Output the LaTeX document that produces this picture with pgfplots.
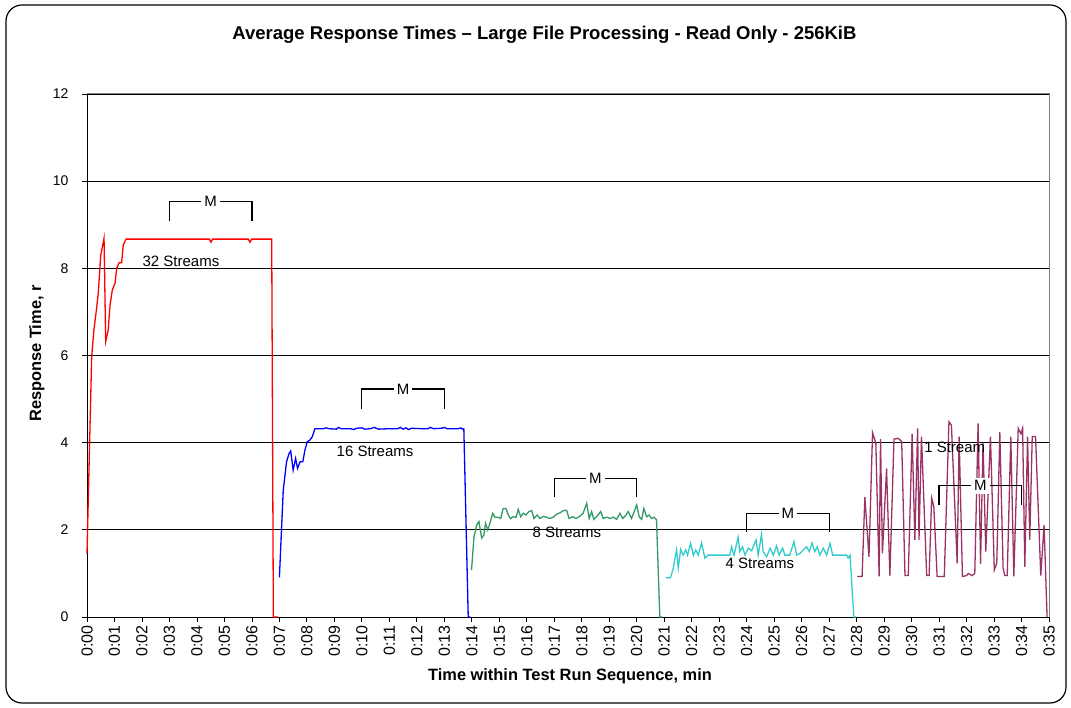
\documentclass[border=0pt]{standalone}
\usepackage{pgfplots}
\pgfplotsset{compat=1.18}
\usepackage{fontspec}
\setmainfont{Liberation Sans}
\definecolor{s32}{RGB}{255,0,0}
\definecolor{s16}{RGB}{0,0,255}
\definecolor{s8}{RGB}{51,153,102}
\definecolor{s4}{RGB}{51,204,204}
\definecolor{s1}{RGB}{153,51,102}
\newcommand{\tfont}{\fontsize{14}{14}\selectfont}
\newcommand{\xtfont}{\fontsize{16}{16}\selectfont}
\newcommand{\lfont}{\fontsize{15}{15}\selectfont}
\newcommand{\bfont}{\fontsize{16.4}{16.4}\selectfont\bfseries}
\newcommand{\titfont}{\fontsize{18.5}{18.5}\selectfont\bfseries}
\begin{document}
\begin{tikzpicture}[x=1pt,y=1pt]
\useasboundingbox (0,0) rectangle (1071,707);
\draw[line width=1.2pt, rounded corners=16pt] (6,4) rectangle (1066,702);
\node[font=\titfont] at (544.5,672) {Average Response Times -- Large File Processing - Read Only - 256KiB};
\node[font=\bfont] at (570,31) {Time within Test Run Sequence, min};
\node[font=\bfont, rotate=90] at (37,353.5) {Response Time, r};
\begin{axis}[
  at={(87pt,90pt)}, anchor=south west,
  width=962pt, height=523pt, scale only axis,
  xmin=0, xmax=35, ymin=0, ymax=12,
  xtick={0,1,...,35},
  xticklabels={0:00,0:01,0:02,0:03,0:04,0:05,0:06,0:07,0:08,0:09,0:10,0:11,0:12,0:13,0:14,0:15,0:16,0:17,0:18,0:19,0:20,0:21,0:22,0:23,0:24,0:25,0:26,0:27,0:28,0:29,0:30,0:31,0:32,0:33,0:34,0:35},
  x tick label style={rotate=90, anchor=east, font=\xtfont},
  ytick={0,2,...,12},
  y tick label style={font=\tfont, xshift=-10pt},
  /pgf/number format/assume math mode=true,
  tick align=outside, tick pos=left, major tick length=5pt,
  tick style={black, line width=0.8pt},
  ymajorgrids, grid style={black, line width=0.8pt},
  axis line style={draw=none},
  clip=false,
  every axis plot/.append style={line width=1.3pt},
]
\draw[gray, line width=1pt] (axis cs:0,12) -- (axis cs:35,12) -- (axis cs:35,0);
\draw[black, line width=1pt] (axis cs:0,12) -- (axis cs:0,0) -- (axis cs:35,0);

\addplot[s32] coordinates {
(0.00,1.45)(0.17,5.97)(0.25,6.58)(0.35,7.09)(0.41,7.43)(0.50,8.30)(0.62,8.69)
(0.68,6.32)(0.77,6.58)(0.84,7.16)(0.92,7.50)(1.02,7.66)(1.08,8.00)(1.17,8.13)
(1.26,8.13)(1.32,8.54)(1.42,8.67)(4.45,8.67)(4.51,8.60)(4.57,8.67)
(5.87,8.67)(5.93,8.60)(5.99,8.67)(6.72,8.67)(6.78,0)(6.95,0)};

\addplot[s16] coordinates {
(7.00,0.91)(7.14,2.91)(7.26,3.56)(7.35,3.75)(7.41,3.81)(7.50,3.37)(7.59,3.64)
(7.66,3.41)(7.75,3.56)(7.85,3.56)(7.93,3.83)(8.01,4.02)(8.11,4.06)(8.20,4.14)
(8.29,4.32)(8.60,4.32)(8.70,4.34)(8.80,4.32)(9.08,4.31)(9.15,4.35)(9.25,4.32)
(9.60,4.32)(9.70,4.30)(9.80,4.33)(10.00,4.34)(10.10,4.31)(10.30,4.32)(10.45,4.35)
(10.60,4.31)(11.00,4.32)(11.30,4.32)(11.40,4.35)(11.50,4.31)(11.60,4.34)(11.70,4.30)
(11.80,4.33)(12.20,4.32)(12.40,4.32)(12.50,4.35)(12.60,4.32)(12.90,4.33)(13.00,4.35)
(13.10,4.32)(13.50,4.32)(13.60,4.34)(13.65,4.31)(13.71,4.32)(13.87,0)(13.95,0)};

\addplot[s8] coordinates {
(13.99,1.08)(14.08,1.84)(14.18,2.11)(14.26,2.19)(14.36,1.81)(14.44,1.88)(14.50,2.15)
(14.58,2.00)(14.66,2.15)(14.76,2.38)(14.84,2.29)(14.96,2.29)(15.05,2.26)(15.14,2.49)
(15.24,2.49)(15.33,2.34)(15.41,2.26)(15.51,2.30)(15.61,2.29)(15.69,2.47)(15.78,2.30)
(15.87,2.38)(15.97,2.34)(16.08,2.42)(16.18,2.44)(16.26,2.26)(16.38,2.34)(16.48,2.26)
(16.60,2.31)(16.72,2.29)(16.84,2.26)(16.96,2.29)(17.09,2.36)(17.21,2.39)(17.33,2.44)
(17.45,2.45)(17.54,2.26)(17.67,2.30)(17.79,2.26)(17.93,2.31)(18.05,2.38)(18.18,2.61)
(18.27,2.26)(18.36,2.42)(18.44,2.24)(18.54,2.30)(18.69,2.42)(18.78,2.26)(18.91,2.29)
(19.03,2.26)(19.15,2.29)(19.27,2.24)(19.39,2.38)(19.49,2.26)(19.61,2.34)(19.69,2.42)
(19.81,2.26)(19.91,2.42)(20.00,2.57)(20.09,2.30)(20.18,2.24)(20.26,2.49)(20.36,2.30)
(20.45,2.34)(20.54,2.26)(20.63,2.29)(20.72,2.23)(20.84,0)(20.94,0)};

\addplot[s4] coordinates {
(21.05,0.90)(21.23,0.90)(21.33,1.12)(21.45,1.54)(21.51,1.12)(21.60,1.55)(21.69,1.42)
(21.78,1.54)(21.85,1.42)(21.96,1.69)(22.06,1.42)(22.15,1.54)(22.24,1.42)(22.36,1.70)
(22.48,1.35)(22.60,1.42)(23.39,1.42)(23.45,1.61)(23.54,1.42)(23.69,1.83)(23.75,1.50)
(23.85,1.61)(23.94,1.42)(24.06,1.58)(24.18,1.52)(24.34,1.77)(24.42,1.42)(24.54,1.90)
(24.60,1.50)(24.73,1.38)(24.85,1.58)(24.97,1.42)(25.09,1.63)(25.18,1.42)(25.31,1.58)
(25.39,1.42)(25.57,1.42)(25.72,1.73)(25.82,1.42)(25.94,1.46)(26.06,1.54)(26.18,1.61)
(26.28,1.50)(26.38,1.70)(26.48,1.50)(26.57,1.61)(26.66,1.42)(26.79,1.58)(26.91,1.42)
(27.03,1.69)(27.13,1.42)(27.64,1.42)(27.69,1.35)(27.76,1.42)(27.90,0)(27.98,0)};

\addplot[s1] coordinates {
(28.02,0.93)(28.20,0.93)(28.30,2.75)(28.45,1.38)(28.58,4.23)(28.70,3.99)(28.82,0.93)
(28.87,4.08)(28.94,1.46)(29.09,3.41)(29.21,0.95)(29.36,4.08)(29.51,4.10)(29.64,4.03)
(29.76,0.95)(29.88,0.95)(30.02,4.20)(30.12,1.77)(30.22,4.33)(30.27,1.77)(30.36,4.14)
(30.55,0.95)(30.64,0.95)(30.73,2.73)(30.81,2.53)(30.93,0.93)(31.19,0.93)(31.36,4.48)
(31.45,4.40)(31.66,1.23)(31.73,4.14)(31.85,0.93)(32.00,0.95)(32.06,1.00)(32.20,0.95)
(32.30,1.00)(32.42,4.44)(32.51,1.22)(32.60,4.00)(32.70,1.50)(32.87,4.14)(33.01,1.08)
(33.10,1.23)(33.21,4.24)(33.33,1.12)(33.39,0.95)(33.48,0.95)(33.61,4.14)(33.72,0.93)
(33.88,4.33)(33.98,4.20)(34.04,4.33)(34.12,1.15)(34.22,4.14)(34.30,1.77)(34.39,4.14)
(34.51,4.14)(34.70,0.95)(34.82,2.11)(34.93,0)};

% M brackets
\foreach \a/\lo/\hi in {3/9.09/9.53, 10/4.77/5.23, 17/2.76/3.17, 24/1.96/2.38, 31/2.57/3.01}{
  \edef\tmp{\noexpand\draw[black, line width=1.2pt, line join=miter] (axis cs:\a,\lo) -- (axis cs:\a,\hi) -- (axis cs:\a+3,\hi) -- (axis cs:\a+3,\lo);
  \noexpand\node[fill=white, inner sep=3pt, font=\noexpand\lfont] at (axis cs:\a+1.5,\hi) {M};}
  \tmp
}
\node[font=\lfont] at (axis cs:3.42,8.15) {32 Streams};
\node[font=\lfont] at (axis cs:10.48,3.81) {16 Streams};
\node[font=\lfont] at (axis cs:17.46,1.95) {8 Streams};
\node[font=\lfont] at (axis cs:24.48,1.24) {4 Streams};
\node[font=\lfont] at (axis cs:31.57,3.90) {1 Stream};
\end{axis}
\end{tikzpicture}
\end{document}
